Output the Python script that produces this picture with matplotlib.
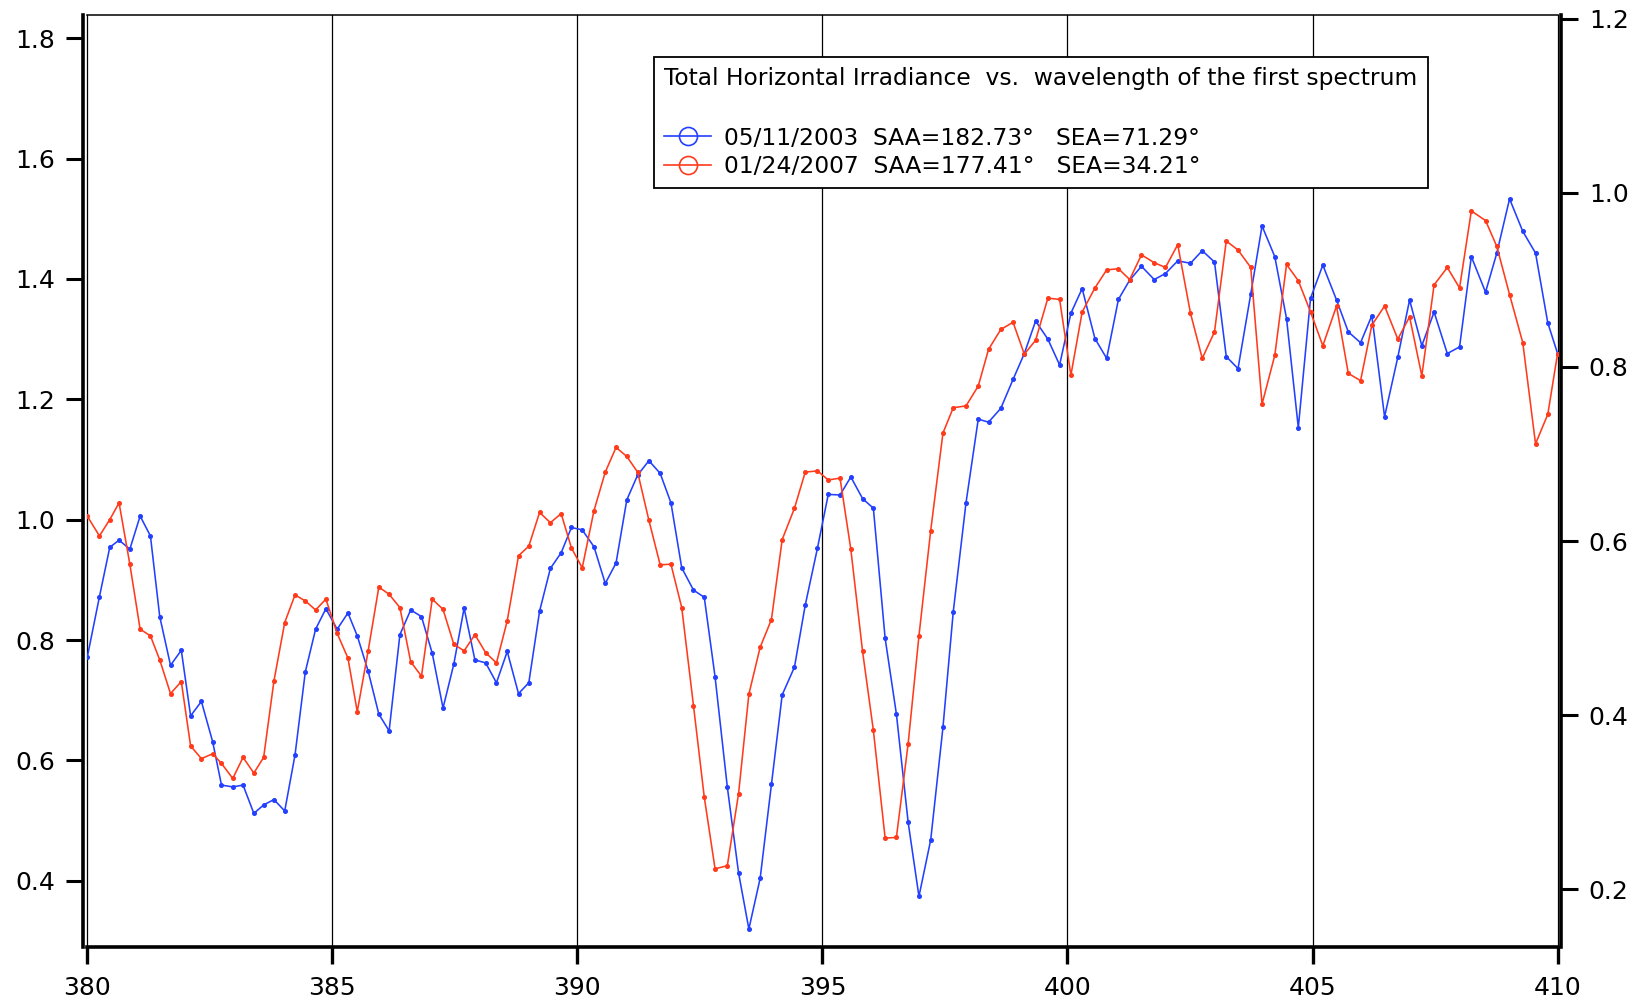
import matplotlib
matplotlib.use("Agg")
import matplotlib.pyplot as plt
from matplotlib.lines import Line2D
from matplotlib.ticker import FormatStrFormatter

# wavelength grid (nm) (spacing is not uniform)
wavelength = [
    380.00, 380.25, 380.46, 380.65, 380.87, 381.08, 381.29, 381.48, 381.70, 381.92,
    382.11, 382.33, 382.56, 382.74, 382.97, 383.18, 383.40, 383.60, 383.81, 384.03,
    384.24, 384.45, 384.66, 384.87, 385.10, 385.32, 385.51, 385.73, 385.95, 386.16,
    386.38, 386.60, 386.82, 387.04, 387.26, 387.48, 387.69, 387.91, 388.13, 388.35,
    388.57, 388.80, 389.01, 389.23, 389.45, 389.67, 389.88, 390.10, 390.34, 390.57,
    390.79, 391.01, 391.23, 391.46, 391.69, 391.91, 392.13, 392.37, 392.59, 392.81,
    393.06, 393.29, 393.50, 393.73, 393.96, 394.18, 394.43, 394.65, 394.90, 395.12,
    395.36, 395.58, 395.82, 396.04, 396.28, 396.51, 396.75, 396.97, 397.21, 397.46,
    397.67, 397.93, 398.18, 398.39, 398.64, 398.89, 399.12, 399.35, 399.60, 399.84,
    400.07, 400.30, 400.56, 400.80, 401.04, 401.27, 401.51, 401.77, 402.00, 402.25,
    402.51, 402.75, 403.00, 403.24, 403.48, 403.74, 403.97, 404.23, 404.47, 404.71,
    404.96, 405.21, 405.49, 405.73, 405.98, 406.21, 406.47, 406.74, 406.98, 407.23,
    407.48, 407.75, 408.00, 408.24, 408.53, 408.76, 409.02, 409.29, 409.55, 409.80,
    410.00,
]

# 05/11/2003
irr_2003 = [
    0.771, 0.872, 0.954, 0.966, 0.951, 1.006, 0.973, 0.839, 0.758, 0.783,
    0.674, 0.698, 0.631, 0.559, 0.556, 0.559, 0.512, 0.526, 0.535, 0.516,
    0.609, 0.747, 0.818, 0.852, 0.818, 0.845, 0.807, 0.749, 0.677, 0.649,
    0.809, 0.850, 0.839, 0.778, 0.687, 0.760, 0.853, 0.767, 0.762, 0.729,
    0.781, 0.711, 0.729, 0.848, 0.919, 0.945, 0.987, 0.983, 0.955, 0.894,
    0.928, 1.033, 1.074, 1.098, 1.077, 1.028, 0.920, 0.883, 0.871, 0.739,
    0.556, 0.413, 0.320, 0.404, 0.560, 0.709, 0.755, 0.858, 0.953, 1.042,
    1.041, 1.071, 1.035, 1.019, 0.803, 0.677, 0.497, 0.374, 0.468, 0.655,
    0.847, 1.028, 1.167, 1.162, 1.185, 1.233, 1.276, 1.330, 1.300, 1.257,
    1.343, 1.384, 1.301, 1.268, 1.366, 1.398, 1.421, 1.399, 1.409, 1.430,
    1.426, 1.447, 1.428, 1.271, 1.251, 1.375, 1.488, 1.437, 1.334, 1.153,
    1.368, 1.423, 1.365, 1.312, 1.294, 1.339, 1.171, 1.270, 1.365, 1.289,
    1.345, 1.276, 1.287, 1.437, 1.378, 1.443, 1.533, 1.479, 1.443, 1.327,
    1.276,
]

# 01/24/2007
irr_2007 = [
    1.006, 0.973, 1.000, 1.028, 0.926, 0.818, 0.807, 0.767, 0.711, 0.731,
    0.624, 0.603, 0.611, 0.595, 0.570, 0.605, 0.579, 0.605, 0.732, 0.829,
    0.875, 0.865, 0.850, 0.868, 0.811, 0.770, 0.681, 0.781, 0.888, 0.876,
    0.854, 0.764, 0.740, 0.868, 0.851, 0.793, 0.782, 0.809, 0.779, 0.762,
    0.832, 0.940, 0.956, 1.012, 0.995, 1.010, 0.953, 0.920, 1.015, 1.079,
    1.120, 1.105, 1.079, 0.999, 0.925, 0.926, 0.854, 0.691, 0.539, 0.420,
    0.425, 0.545, 0.710, 0.788, 0.834, 0.967, 1.019, 1.079, 1.081, 1.066,
    1.069, 0.951, 0.781, 0.650, 0.471, 0.472, 0.628, 0.807, 0.982, 1.144,
    1.186, 1.189, 1.222, 1.283, 1.316, 1.328, 1.275, 1.298, 1.368, 1.366,
    1.240, 1.345, 1.385, 1.415, 1.417, 1.399, 1.440, 1.427, 1.419, 1.457,
    1.343, 1.268, 1.312, 1.463, 1.448, 1.419, 1.192, 1.273, 1.424, 1.397,
    1.345, 1.289, 1.355, 1.243, 1.231, 1.323, 1.355, 1.300, 1.337, 1.239,
    1.390, 1.419, 1.385, 1.513, 1.497, 1.454, 1.374, 1.294, 1.126, 1.175,
    1.276,
]

legend_title = "Total Horizontal Irradiance  vs.  wavelength of the first spectrum"
labels = ["05/11/2003  SAA=182.73\u00b0   SEA=71.29\u00b0",
          "01/24/2007  SAA=177.41\u00b0   SEA=34.21\u00b0"]
colors = ["#2340ff", "#ff3b1c"]

x_ticks = [380, 385, 390, 395, 400, 405, 410]
left_ticks = [0.4, 0.6, 0.8, 1.0, 1.2, 1.4, 1.6, 1.8]
right_ticks = [0.2, 0.4, 0.6, 0.8, 1.0, 1.2]

fig = plt.figure(figsize=(16.48, 10.06), dpi=100)
ax = fig.add_axes([0.05291, 0.05895, 0.89223, 0.92644])

for y, c in zip([irr_2003, irr_2007], colors):
    ax.plot(wavelength, y, color=c, lw=1.15, marker="o", ms=2.6,
            mfc=c, mec=c, zorder=3)

ax.set_xlim(380, 410)
ax.set_ylim(0.2905, 1.839)
ax.set_xticks(x_ticks)
ax.set_yticks(left_ticks)
ax.yaxis.set_major_formatter(FormatStrFormatter("%.1f"))

# vertical grid lines and thin plot frame
for xv in x_ticks[1:-1]:
    ax.axvline(xv, color="black", lw=0.9, zorder=1)
for xv in (380, 410):
    ax.axvline(xv, color="black", lw=0.9, zorder=1, clip_on=False)

ax.spines["left"].set_position(("outward", 3))
ax.spines["left"].set_linewidth(2.6)
ax.spines["bottom"].set_linewidth(2.6)
ax.spines["top"].set_linewidth(1.1)
ax.spines["right"].set_visible(False)

ax.tick_params(axis="y", direction="out", length=12, width=2.2, pad=8,
               labelsize=18)
ax.tick_params(axis="x", direction="out", length=12, width=2.4, pad=9,
               labelsize=18)

tw = ax.twinx()
tw.set_ylim(0.1338, 1.2048)
tw.set_yticks(right_ticks)
tw.yaxis.set_major_formatter(FormatStrFormatter("%.1f"))
for s in ("left", "top", "bottom"):
    tw.spines[s].set_visible(False)
tw.spines["right"].set_position(("outward", 2.5))
tw.spines["right"].set_linewidth(2.6)
tw.tick_params(axis="y", direction="out", length=12, width=2.2, pad=8,
               labelsize=18)

handles = [Line2D([], [], color=c, lw=1.2, marker="o", ms=13, mfc="none",
                  mec=c, mew=1.2) for c in colors]
leg = tw.legend(handles, labels, title=legend_title + "\n",
                loc="upper left", bbox_to_anchor=(0.3968, 0.9435),
                bbox_transform=fig.transFigure,
                prop={"family": "DejaVu Sans", "size": 16.8},
                title_fontproperties={"family": "DejaVu Sans", "size": 16.8},
                alignment="left", frameon=True, fancybox=False,
                edgecolor="black", framealpha=1, borderpad=0.45,
                handlelength=2.0, handletextpad=0.55, labelspacing=0.22,
                borderaxespad=0)
leg.get_title().set_linespacing(1.45)
leg.get_frame().set_linewidth(1.3)

fig.savefig("out.png", dpi=100)
